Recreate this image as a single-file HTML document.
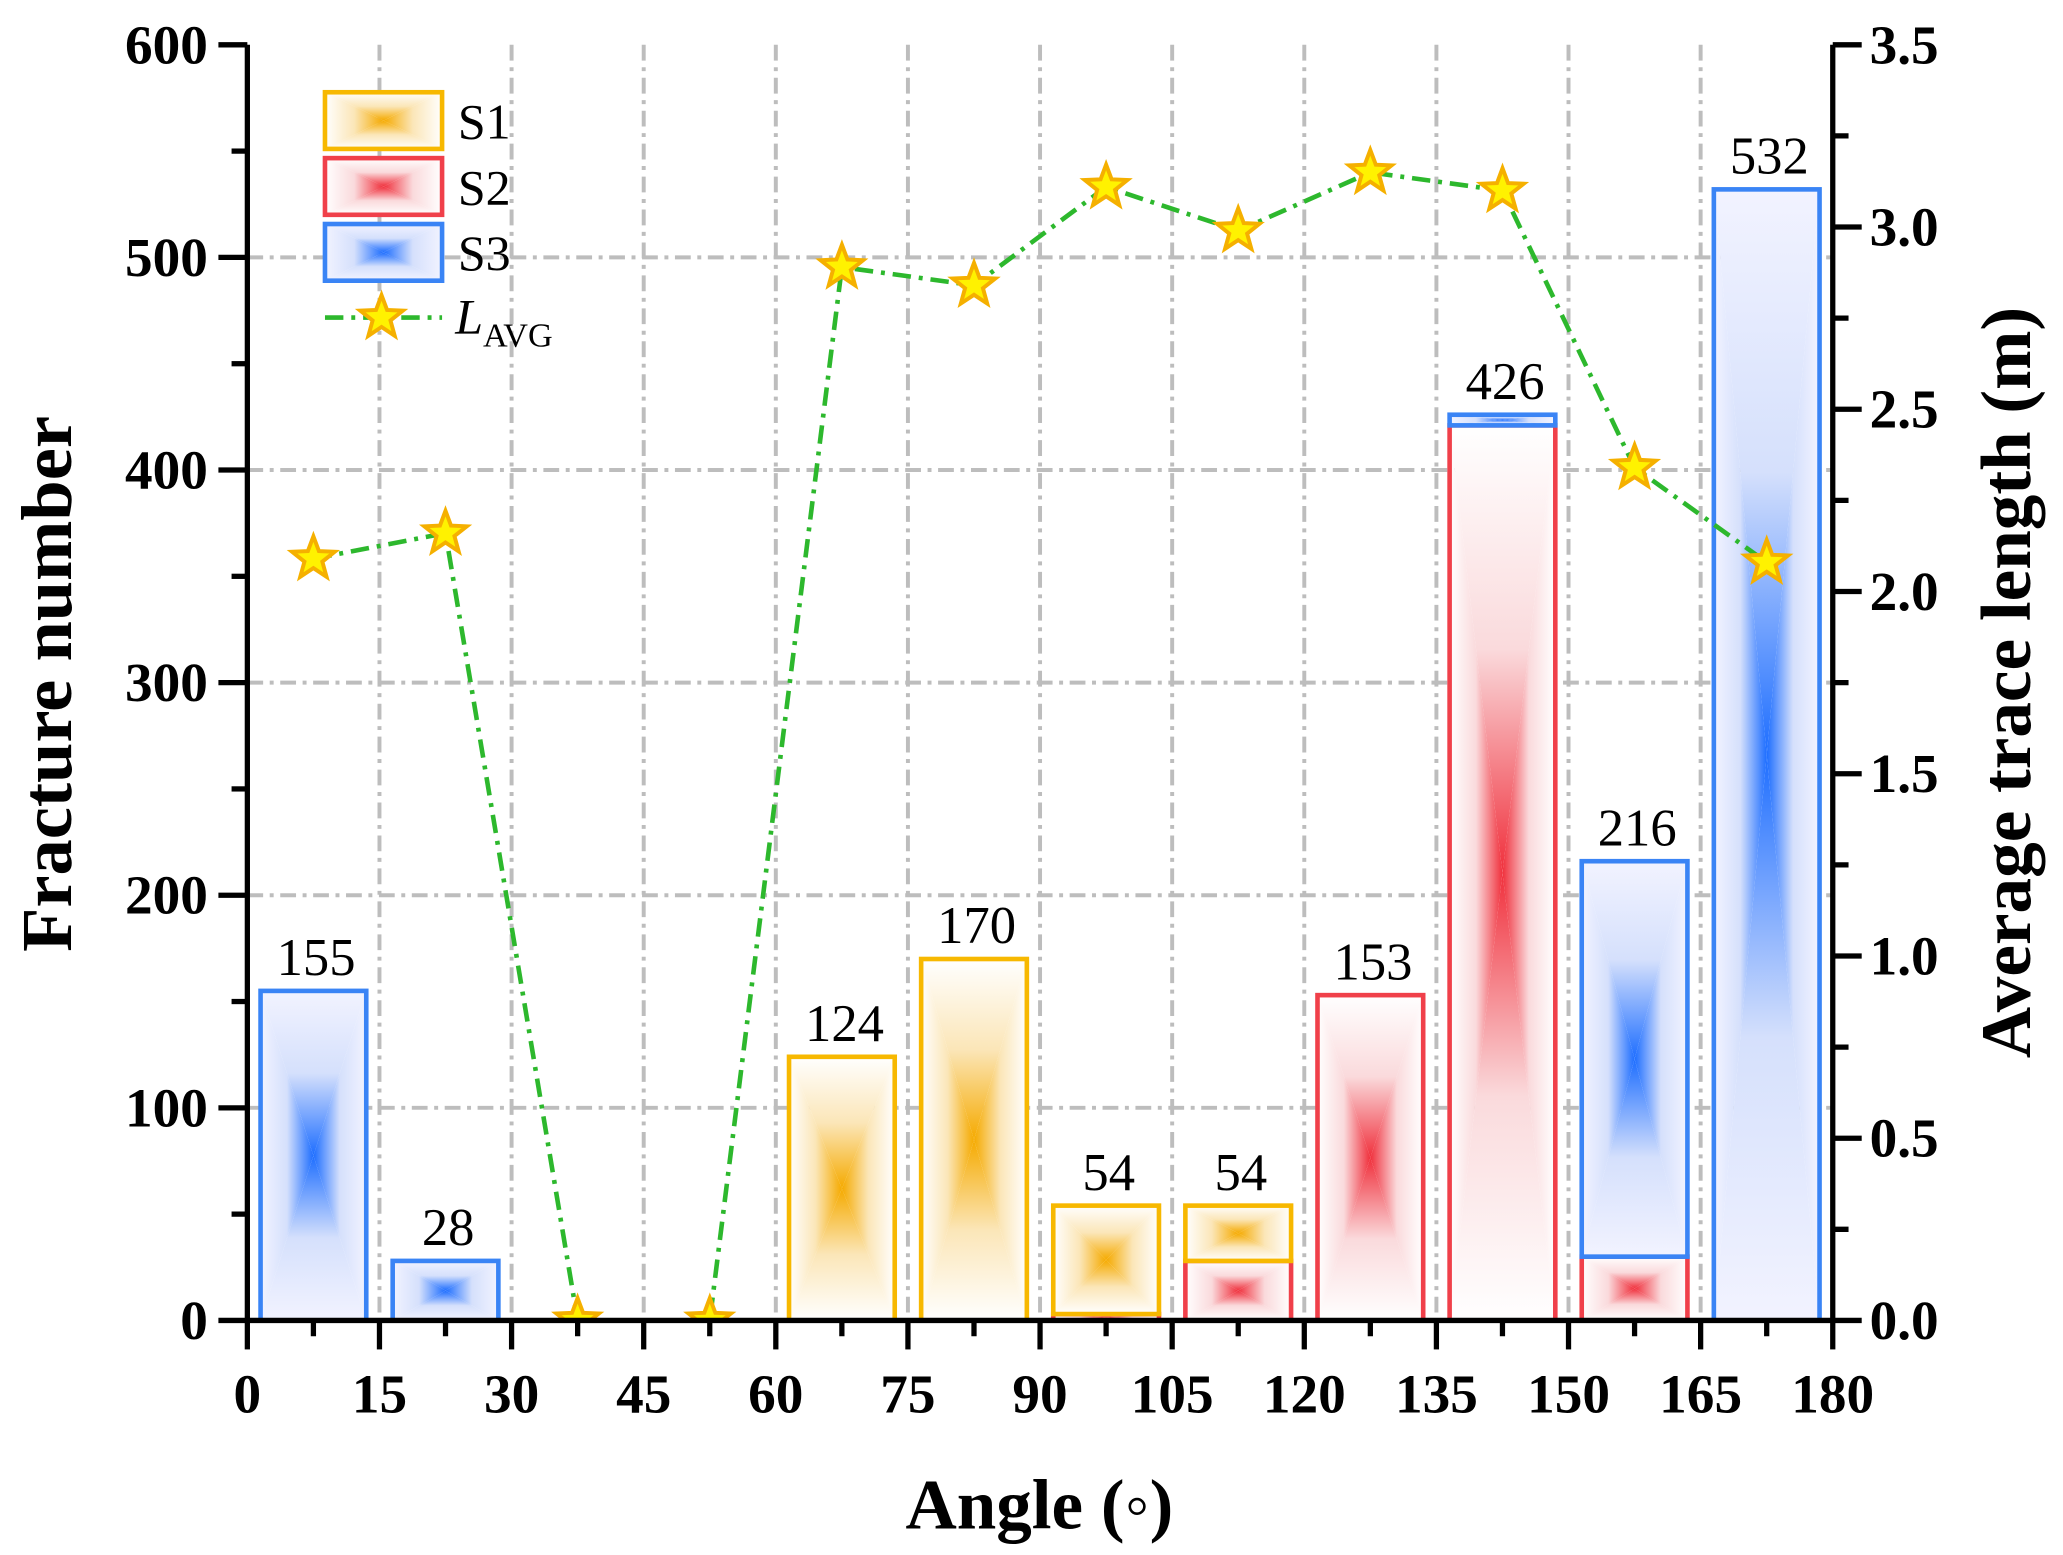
<!DOCTYPE html>
<html><head><meta charset="utf-8"><style>
html,body{margin:0;padding:0;background:#fff;}
svg{display:block;font-family:"Liberation Serif",serif;}
</style></head><body>
<svg id="chart" width="2063" height="1555" viewBox="0 0 1568 1180" preserveAspectRatio="none" xmlns="http://www.w3.org/2000/svg">
<defs id="defs"></defs>
<clipPath id="plotclip"><rect x="188" y="34" width="1205" height="968"/></clipPath>
<g id="grid"></g>
<g id="bars" clip-path="url(#plotclip)"></g>
<g id="line" clip-path="url(#plotclip)"></g>
<g id="labels"></g>
<g id="axes"></g>
<g id="legend"></g>
</svg>
<script>
const binStarts=[0,15,30,45,60,75,90,105,120,135,150,165];
const s1=[0,0,0,0,124,170,51,26,0,0,0,0];
const s2=[0,0,0,0,0,0,3,28,153,421,30,0];
const s3=[155,28,0,0,0,0,0,0,0,5,186,532];
const totalLabels=["155","28","","","124","170","54","54","153","426","216","532"];
const lavg=[2.09,2.16,0,0,2.89,2.84,3.11,2.99,3.15,3.10,2.34,2.08];
const xTicks=[0,15,30,45,60,75,90,105,120,135,150,165,180];
const yTicks=[0,100,200,300,400,500,600];
const y2Ticks=["0.0","0.5","1.0","1.5","2.0","2.5","3.0","3.5"];

const L=188,R=1393,T=34,B=1002;
const X=v=>L+(v/180)*(R-L);
const Y=v=>B-(v/600)*(B-T);
const Y2=v=>B-(v/3.5)*(B-T);
const NS="http://www.w3.org/2000/svg";
function mk(tag,attrs,parent,text){const e=document.createElementNS(NS,tag);for(const k in attrs)e.setAttribute(k,attrs[k]);if(text!==undefined)e.textContent=text;parent.appendChild(e);return e;}
const defs=document.getElementById('defs'),grid=document.getElementById('grid'),bars=document.getElementById('bars'),line=document.getElementById('line'),labels=document.getElementById('labels'),axes=document.getElementById('axes'),legend=document.getElementById('legend');

const gcols={S1:['#FFFFFF','#FBE6B8','#F5AA00'],S2:['#FFFFFF','#FADADC','#F0303C'],S3:['#F2F3FF','#D5E0FC','#1E6EFF']};
const dirs={'v':[0,0,0,1],'vr':[0,1,0,0],'h':[0,0,1,0],'hr':[1,0,0,0]};
for(const s in gcols){for(const d in dirs){const [a,b,c,e]=dirs[d];const g=mk('linearGradient',{id:s+'-'+d,x1:a,y1:b,x2:c,y2:e},defs);
 mk('stop',{offset:0,'stop-color':gcols[s][0]},g);mk('stop',{offset:0.5,'stop-color':gcols[s][1]},g);mk('stop',{offset:1,'stop-color':gcols[s][2]},g);}}

xTicks.forEach(t=>{if(t>0&&t<180){const g=mk('line',{x1:X(t),x2:X(t),y1:T,y2:B,stroke:'#bdbdbd','stroke-width':3,'stroke-dasharray':'12 5 3 5'},grid);}});
yTicks.forEach(t=>{if(t>0&&t<600){const g=mk('line',{x1:L,x2:R,y1:Y(t),y2:Y(t),stroke:'#bdbdbd','stroke-width':3,'stroke-dasharray':'12 5 3 5'},grid);}});

const cols={S1:'#F7B800',S2:'#F0404A',S3:'#3A84F5'};
function boxFill(x,y,w,h,s,parent){
  const cx=x+w/2,cy=y+h/2;
  mk('polygon',{points:`${x},${y} ${x+w},${y} ${cx},${cy}`,fill:`url(#${s}-v)`,stroke:'none'},parent);
  mk('polygon',{points:`${x},${y+h} ${x+w},${y+h} ${cx},${cy}`,fill:`url(#${s}-vr)`,stroke:'none'},parent);
  mk('polygon',{points:`${x},${y} ${x},${y+h} ${cx},${cy}`,fill:`url(#${s}-h)`,stroke:'none'},parent);
  mk('polygon',{points:`${x+w},${y} ${x+w},${y+h} ${cx},${cy}`,fill:`url(#${s}-hr)`,stroke:'none'},parent);
}
function bar(x0,lo,hi,s){if(hi<=lo)return;const x1=X(x0+1.5),w=X(x0+13.5)-x1;const g=mk('g',{},bars);
 boxFill(x1,Y(hi),w,Y(lo)-Y(hi),s,g);
 mk('rect',{x:x1,y:Y(hi),width:w,height:Y(lo)-Y(hi),fill:'none',stroke:cols[s],'stroke-width':3.5},g);}
binStarts.forEach((b,i)=>{let base=0;[['S2',s2[i]],['S1',s1[i]],['S3',s3[i]]].forEach(([s,v])=>{bar(b,base,base+v,s);base+=v;});
 if(totalLabels[i]){const t=mk('text',{x:X(b+7.5)+2,y:Y(base)-12,'font-size':40,'text-anchor':'middle'},labels,totalLabels[i]);}});

const pts=binStarts.map((b,i)=>X(b+7.5)+','+Y2(lavg[i])).join(' ');
const pl=mk('polyline',{points:pts,fill:'none',stroke:'#2DB82D','stroke-width':3.5,'stroke-dasharray':'14 6 3 6'},line);

function starPath(cx,cy,r){let d='';for(let k=0;k<10;k++){const a=-Math.PI/2+k*Math.PI/5,rr=k%2?r*0.42:r;d+=(k?'L':'M')+(cx+rr*Math.cos(a)).toFixed(1)+','+(cy+rr*Math.sin(a)).toFixed(1);}return d+'Z';}
binStarts.forEach((b,i)=>{const s=mk('path',{d:starPath(X(b+7.5),Y2(lavg[i]),17),fill:'#FFF200',stroke:'#F5B000','stroke-width':3},line);});

const ax=mk('path',{d:`M${L},${T}V${B}H${R}V${T}`,fill:'none',stroke:'#000','stroke-width':4},axes);

xTicks.forEach(t=>{mk('line',{x1:X(t),x2:X(t),y1:B,y2:B+22,stroke:'#000','stroke-width':4},axes);
 const tx=mk('text',{x:X(t),y:B+70,'font-size':42,'font-weight':'bold','text-anchor':'middle'},axes,String(t));
 if(t<180)mk('line',{x1:X(t+7.5),x2:X(t+7.5),y1:B,y2:B+12,stroke:'#000','stroke-width':4},axes);});
yTicks.forEach(t=>{mk('line',{x1:L-22,x2:L,y1:Y(t),y2:Y(t),stroke:'#000','stroke-width':4},axes);
 const tx=mk('text',{x:L-30,y:Y(t)+14,'font-size':42,'font-weight':'bold','text-anchor':'end'},axes,String(t));
 if(t<600)mk('line',{x1:L-12,x2:L,y1:Y(t+50),y2:Y(t+50),stroke:'#000','stroke-width':4},axes);});
y2Ticks.forEach((t,i)=>{const v=parseFloat(t);mk('line',{x1:R,x2:R+22,y1:Y2(v),y2:Y2(v),stroke:'#000','stroke-width':4},axes);
 const tx=mk('text',{x:R+28,y:Y2(v)+14,'font-size':42,'font-weight':'bold'},axes,t);
 if(v<3.5)mk('line',{x1:R,x2:R+12,y1:Y2(v+0.25),y2:Y2(v+0.25),stroke:'#000','stroke-width':4},axes);});
let t1=mk('text',{x:790,y:1160,'font-size':54,'font-weight':'bold','text-anchor':'middle'},axes,'Angle (\u25E6)');
let t2=mk('text',{x:0,y:0,'font-size':55,'font-weight':'bold','text-anchor':'middle',transform:'translate(54,519) rotate(-90)'},axes,'Fracture number');
let t3=mk('text',{x:0,y:0,'font-size':54,'font-weight':'bold','text-anchor':'middle',transform:'translate(1543,518) rotate(-90)'},axes,'Average trace length (m)');

['S1','S2','S3'].forEach((s,i)=>{const y=70+i*50;const g=mk('g',{},legend);
 boxFill(247,y,89,43,s,g);mk('rect',{x:247,y:y,width:89,height:43,fill:'none',stroke:cols[s],'stroke-width':3.5},g);
 const t=mk('text',{x:348,y:y+35,'font-size':38},legend,s);});
const ll=mk('line',{x1:247,x2:336,y1:241,y2:241,stroke:'#2DB82D','stroke-width':3.5,'stroke-dasharray':'14 6 3 6'},legend);
const ls=mk('path',{d:starPath(290,241,17),fill:'#FFF200',stroke:'#F5B000','stroke-width':3},legend);
const lt=mk('text',{x:346,y:253,'font-size':38},legend);
mk('tspan',{'font-style':'italic'},lt,'L');mk('tspan',{'font-size':26,dy:10},lt,'AVG');
</script>
</body></html>
